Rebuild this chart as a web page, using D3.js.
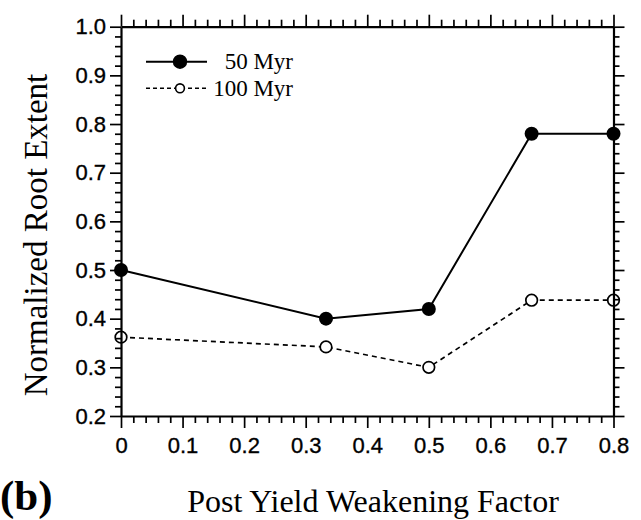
<!DOCTYPE html>
<html>
<head>
<meta charset="utf-8">
<script src="https://cdn.jsdelivr.net/npm/d3@7"></script>
<style>
  html, body { margin: 0; padding: 0; background: #fff; }
  svg { display: block; }
</style>
</head>
<body>
<svg id="chart" width="641" height="520"></svg>
<script>
// Post-yield weakening factor for each model run
const weakening = [0, 0.333, 0.5, 0.667, 0.8];
// Normalized root extent after 50 Myr and 100 Myr
const root50 = [0.50, 0.40, 0.42, 0.78, 0.78];
const root100 = [0.362, 0.342, 0.300, 0.438, 0.438];
// Axis ticks
const xMajor = [0, 0.1, 0.2, 0.3, 0.4, 0.5, 0.6, 0.7, 0.8];
const xLabels = ["0", "0.1", "0.2", "0.3", "0.4", "0.5", "0.6", "0.7", "0.8"];
const yMajor = [0.2, 0.3, 0.4, 0.5, 0.6, 0.7, 0.8, 0.9, 1.0];
const yLabels = ["0.2", "0.3", "0.4", "0.5", "0.6", "0.7", "0.8", "0.9", "1.0"];
const xMinor = [0.02,0.04,0.06,0.08,0.12,0.14,0.16,0.18,0.22,0.24,0.26,0.28,0.32,0.34,0.36,0.38,
                0.42,0.44,0.46,0.48,0.52,0.54,0.56,0.58,0.62,0.64,0.66,0.68,0.72,0.74,0.76,0.78];
const yMinor = [0.22,0.24,0.26,0.28,0.32,0.34,0.36,0.38,0.42,0.44,0.46,0.48,0.52,0.54,0.56,0.58,
                0.62,0.64,0.66,0.68,0.72,0.74,0.76,0.78,0.82,0.84,0.86,0.88,0.92,0.94,0.96,0.98];
const seriesNames = ["50 Myr", "100 Myr"];

const svg = d3.select("#chart");
const plotLeft = 121, plotRight = 613.5, plotTop = 26.7, plotBottom = 416;

const x = d3.scaleLinear().domain([0, 0.8]).range([plotLeft, plotRight]);
const y = d3.scaleLinear().domain([0.2, 1.0]).range([plotBottom, plotTop]);

const sans = "'Liberation Sans', Arial, Helvetica, sans-serif";
const serif = "'Liberation Serif', 'Times New Roman', Times, serif";

// Data lines
const line = d3.line().x((d, i) => x(weakening[i])).y(d => y(d));

svg.append("path").datum(root100)
  .attr("d", line).attr("fill", "none")
  .attr("stroke", "#000").attr("stroke-width", 1.7)
  .attr("stroke-dasharray", "5,4");

svg.append("path").datum(root50)
  .attr("d", line).attr("fill", "none")
  .attr("stroke", "#000").attr("stroke-width", 2);

// Markers
svg.append("g").selectAll("circle").data(root100).join("circle")
  .attr("cx", (d, i) => x(weakening[i])).attr("cy", d => y(d))
  .attr("r", 5.8).attr("fill", "#fff").attr("stroke", "#000").attr("stroke-width", 1.7);

svg.append("g").selectAll("circle").data(root50).join("circle")
  .attr("cx", (d, i) => x(weakening[i])).attr("cy", d => y(d))
  .attr("r", 7).attr("fill", "#000");

// Axes: major ticks with labels, minor ticks without, on all four sides
function styleAxis(g, width) {
  g.selectAll("path.domain").attr("stroke", "#000").attr("stroke-width", width);
  g.selectAll(".tick line").attr("stroke", "#000").attr("stroke-width", 1.7);
}

function addAxis(axisFn, scale, pos, major, labels, minor, majorLen, minorLen, pad) {
  const gMinor = svg.append("g").attr("transform", pos)
    .call(axisFn(scale).tickValues(minor).tickSize(minorLen).tickSizeOuter(0).tickFormat(""));
  gMinor.select("path.domain").remove();
  styleAxis(gMinor, 2.2);
  const gMajor = svg.append("g").attr("transform", pos)
    .call(axisFn(scale).tickValues(major).tickSize(majorLen).tickSizeOuter(0).tickPadding(pad)
      .tickFormat(labels ? ((d, i) => labels[i]) : ""));
  styleAxis(gMajor, 2.2);
  gMajor.selectAll("text").attr("fill", "#000")
    .attr("stroke", "#000").attr("stroke-width", 0.35)
    .style("font-family", sans).style("font-size", "22px");
  return gMajor;
}

addAxis(d3.axisBottom, x, `translate(0,${plotBottom})`, xMajor, xLabels, xMinor, 12, 7, 9);
addAxis(d3.axisTop, x, `translate(0,${plotTop})`, xMajor, null, xMinor, 12, 7, 3);
addAxis(d3.axisLeft, y, `translate(${plotLeft},0)`, yMajor, yLabels, yMinor, 11, 6, 4);
addAxis(d3.axisRight, y, `translate(${plotRight},0)`, yMajor, null, yMinor, 11, 6, 3);

// Legend
const legend = svg.append("g");
const legendRows = [
  { name: seriesNames[0], y: 61.7, dash: null, r: 6.4, fill: "#000", sw: 2 },
  { name: seriesNames[1], y: 88.3, dash: "4,3", r: 4.4, fill: "#fff", sw: 1.6 }
];
legendRows.forEach(row => {
  legend.append("line")
    .attr("x1", 146).attr("x2", 207).attr("y1", row.y).attr("y2", row.y)
    .attr("stroke", "#000").attr("stroke-width", row.sw)
    .attr("stroke-dasharray", row.dash);
  legend.append("circle")
    .attr("cx", 180).attr("cy", row.y).attr("r", row.r)
    .attr("fill", row.fill).attr("stroke", "#000").attr("stroke-width", 1.6);
  legend.append("text")
    .attr("x", 293).attr("y", row.y + 7.5)
    .attr("text-anchor", "end")
    .style("font-family", serif).style("font-size", "23px")
    .text(row.name);
});

// Axis titles
svg.append("text")
  .attr("transform", "translate(47,235) rotate(-90)")
  .attr("text-anchor", "middle")
  .style("font-family", serif).style("font-size", "33px")
  .text("Normalized Root Extent");

svg.append("text")
  .attr("x", 373).attr("y", 512)
  .attr("text-anchor", "middle")
  .style("font-family", serif).style("font-size", "32px")
  .text("Post Yield Weakening Factor");

// Panel label
svg.append("text")
  .attr("x", 0).attr("y", 510)
  .style("font-family", serif).style("font-size", "43px").style("font-weight", "bold")
  .text("(b)");
</script>
</body>
</html>
